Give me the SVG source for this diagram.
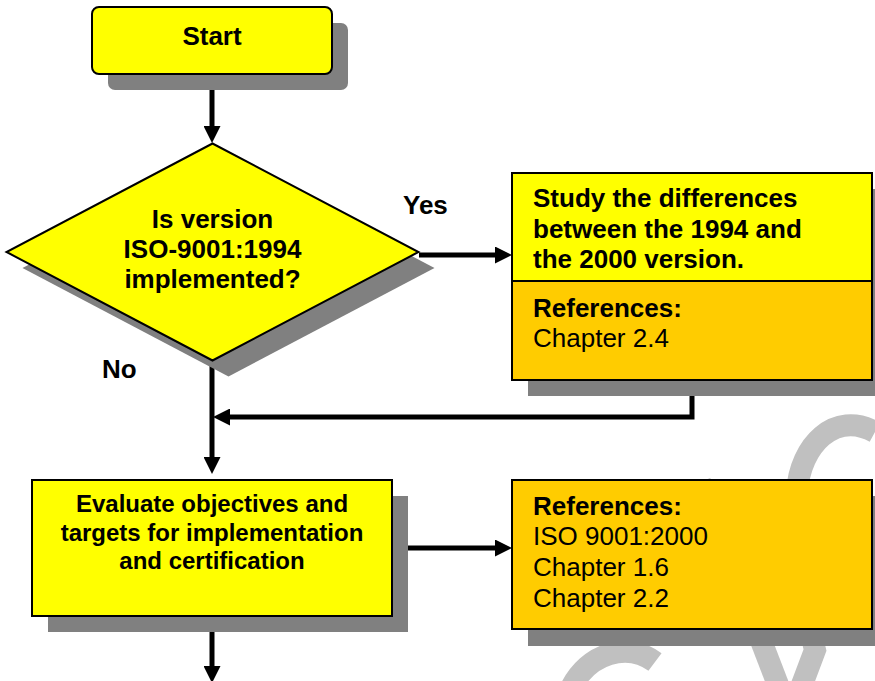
<svg xmlns="http://www.w3.org/2000/svg" width="875" height="681" viewBox="0 0 875 681">
<defs>
<style>
.box{stroke:#000;stroke-width:2}
.y{fill:#ffff00}
.o{fill:#ffcc00}
.sh{fill:#808080}
.wm{fill:none;stroke:#c0c0c0;stroke-width:22}
.t{font-family:"Liberation Sans",Arial,sans-serif;font-size:26px;fill:#000}
.b{font-weight:bold}
.c{text-anchor:middle}
.ln{fill:none;stroke:#000;stroke-width:5}
</style>
<marker id="a" viewBox="0 0 17 17" refX="9" refY="8.5" markerWidth="17" markerHeight="17" markerUnits="userSpaceOnUse" orient="auto">
<path d="M0,0 L17,8.5 L0,17 Z" fill="#000"/>
</marker>
</defs>
<rect width="875" height="681" fill="#fff"/>
<g id="watermark">
<path class="wm" d="M797 492 C800 445 835 410 875 432"/>
<path class="wm" d="M700 482 L780 690"/>
<path class="wm" d="M775 482 L815 650 L800 690"/>
<path class="wm" d="M570 690 C588 652 628 642 655 662"/>
</g>
<g id="connectors">
<path class="ln" d="M212 75 V135" marker-end="url(#a)"/>
<path class="ln" d="M419 255 H504" marker-end="url(#a)"/>
<path class="ln" d="M212 360 V466" marker-end="url(#a)"/>
<path class="ln" d="M692 381 V417 H221" marker-end="url(#a)"/>
<path class="ln" d="M393 548 H504" marker-end="url(#a)"/>
<path class="ln" d="M212 617 V675" marker-end="url(#a)"/>
</g>
<g id="start">
<rect class="sh" x="108" y="23" width="240" height="67" rx="7"/>
<rect class="box y" x="92" y="7" width="240" height="67" rx="7"/>
<text class="t b c" x="212" y="45">Start</text>
</g>
<g id="decision">
<polygon class="sh" points="228.5,159.5 434.5,268 228.5,376.5 22.5,268"/>
<polygon class="box y" points="212.5,143.5 418.5,252 212.5,360.5 6.5,252"/>
<text class="t b c" x="212.5" y="228">Is version</text>
<text class="t b c" x="212.5" y="258">ISO-9001:1994</text>
<text class="t b c" x="212.5" y="288">implemented?</text>
</g>
<g id="labels">
<text class="t b" x="403" y="214">Yes</text>
<text class="t b" x="102" y="378">No</text>
</g>
<g id="study">
<rect class="sh" x="528" y="189" width="360" height="207"/>
<rect class="box y" x="512" y="173" width="360" height="108"/>
<rect class="box o" x="512" y="281" width="360" height="99"/>
<text class="t b" x="533" y="207">Study the differences</text>
<text class="t b" x="533" y="238">between the 1994 and</text>
<text class="t b" x="533" y="268">the 2000 version.</text>
<text class="t b" x="533" y="317">References:</text>
<text class="t" x="533" y="347">Chapter 2.4</text>
</g>
<g id="evaluate">
<rect class="sh" x="48" y="496" width="360" height="136"/>
<rect class="box y" x="32" y="480" width="360" height="136"/>
<text class="t b c" x="212" y="512" style="font-size:24px">Evaluate objectives and</text>
<text class="t b c" x="212" y="541" style="font-size:24px">targets for implementation</text>
<text class="t b c" x="212" y="569" style="font-size:24px">and certification</text>
</g>
<g id="refs">
<rect class="sh" x="528" y="496" width="360" height="150"/>
<rect class="box o" x="512" y="480" width="360" height="149"/>
<text class="t b" x="533" y="515">References:</text>
<text class="t" x="533" y="545">ISO 9001:2000</text>
<text class="t" x="533" y="576">Chapter 1.6</text>
<text class="t" x="533" y="607">Chapter 2.2</text>
</g>
</svg>
